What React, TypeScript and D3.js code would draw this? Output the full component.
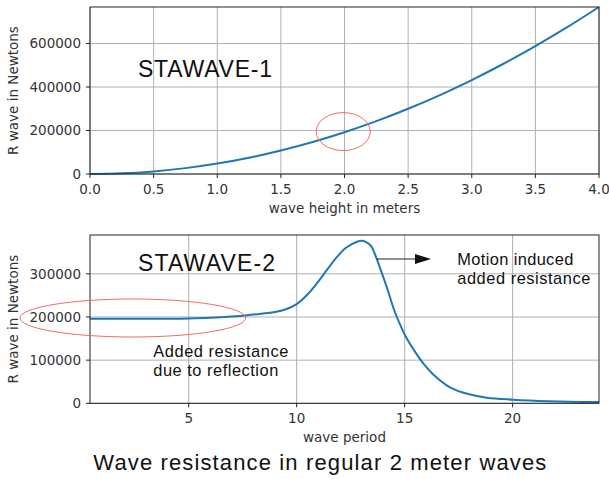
import React from "react";
import * as d3 from "d3";

// ---- Data ----
const waveHeights = [0, 0.25, 0.5, 0.75, 1.0, 1.25, 1.5, 1.75, 2.0, 2.25, 2.5, 2.75, 3.0, 3.25, 3.5, 3.75, 4.0];
const resistanceByHeight = [0, 3000, 12000, 27000, 48000, 75000, 108000, 147000, 192000, 243000, 300000, 363000, 432000, 507000, 588000, 675000, 768000];

const wavePeriods = [0.43, 1, 2, 3, 4, 5, 6, 7, 7.7, 8.5, 9, 9.5, 10, 10.5, 11, 11.4, 11.9, 12.3, 12.8, 13.0, 13.2, 13.45, 13.65, 13.9, 14.2, 14.5, 14.8, 15.1, 15.5, 15.9, 16.3, 17.1, 17.9, 18.8, 20, 21.7, 24];
const resistanceByPeriod = [196000, 196000, 196000, 196000, 196000, 196500, 198000, 201000, 204000, 208500, 211500, 218000, 230000, 252000, 282000, 309000, 341000, 361000, 374500, 376500, 374000, 364000, 342000, 308000, 265000, 218000, 181000, 150000, 118000, 90000, 68000, 37000, 22000, 13000, 8500, 5000, 3000];

const topXTicks = [0, 0.5, 1.0, 1.5, 2.0, 2.5, 3.0, 3.5, 4.0];
const topYTicks = [0, 200000, 400000, 600000];
const bottomXTicks = [5, 10, 15, 20];
const bottomYTicks = [0, 100000, 200000, 300000];

const topXLabel = "wave height in meters";
const bottomXLabel = "wave period";
const yLabel = "R wave in Newtons";
const title = "Wave resistance in regular 2 meter waves";

const MPL_FONT = "'DejaVu Sans', sans-serif";
const ARIAL = "'Liberation Sans', Arial, sans-serif";
const TICK_COLOR = "#333";
const GRID = "#b0b0b0";
const LINE = "#1f77b4";
const RED = "#f26a6a";

type PanelProps = {
  xs: d3.ScaleLinear<number, number>;
  ys: d3.ScaleLinear<number, number>;
  xTicks: number[];
  yTicks: number[];
  xFmt: (v: number) => string;
  xLabel: string;
  xData: number[];
  yData: number[];
};

function Panel({ xs, ys, xTicks, yTicks, xFmt, xLabel, xData, yData }: PanelProps) {
  const [x0, x1] = xs.range();
  const [y0, y1] = ys.range(); // y0 bottom, y1 top
  const line = d3
    .line<number>()
    .x((_, i) => xs(xData[i]))
    .y((d) => ys(d))
    .curve(d3.curveCatmullRom.alpha(0.5));
  return (
    <g>
      {xTicks.map((t) => (
        <line key={"gx" + t} x1={xs(t)} x2={xs(t)} y1={y0} y2={y1} stroke={GRID} strokeWidth={1} />
      ))}
      {yTicks.map((t) => (
        <line key={"gy" + t} x1={x0} x2={x1} y1={ys(t)} y2={ys(t)} stroke={GRID} strokeWidth={1} />
      ))}
      <path d={line(yData) || ""} fill="none" stroke={LINE} strokeWidth={2} />
      <rect x={x0} y={y1} width={x1 - x0} height={y0 - y1} fill="none" stroke="#222" strokeWidth={1} />
      {xTicks.map((t) => (
        <g key={"tx" + t}>
          <line x1={xs(t)} x2={xs(t)} y1={y0} y2={y0 + 4} stroke="#222" strokeWidth={1} />
          <text x={xs(t)} y={y0 + 19.5} textAnchor="middle" fontFamily={MPL_FONT} fontSize={13.5} fill={TICK_COLOR}>
            {xFmt(t)}
          </text>
        </g>
      ))}
      {yTicks.map((t) => (
        <g key={"ty" + t}>
          <line x1={x0 - 4} x2={x0} y1={ys(t)} y2={ys(t)} stroke="#222" strokeWidth={1} />
          <text x={x0 - 9} y={ys(t)} dy="0.36em" textAnchor="end" fontFamily={MPL_FONT} fontSize={13.5} fill={TICK_COLOR}>
            {String(t)}
          </text>
        </g>
      ))}
      <text x={(x0 + x1) / 2} y={y0 + 38.7} textAnchor="middle" fontFamily={MPL_FONT} fontSize={13.5} fill={TICK_COLOR}>
        {xLabel}
      </text>
      <text
        transform={`translate(18.3, ${(y0 + y1) / 2}) rotate(-90)`}
        textAnchor="middle"
        fontFamily={MPL_FONT}
        fontSize={13.5}
        fill={TICK_COLOR}
      >
        {yLabel}
      </text>
    </g>
  );
}

export default function App() {
  const W = 609;
  const H = 479;
  const xTop = d3.scaleLinear().domain([0, 4]).range([90, 599]);
  const yTop = d3.scaleLinear().domain([0, 768000]).range([174, 7]);
  const xBot = d3.scaleLinear().domain([0.43, 24]).range([90, 599]);
  const yBot = d3.scaleLinear().domain([0, 390000]).range([403.3, 235]);

  return (
    <svg
      width={W}
      height={H}
      style={{ position: "absolute", left: 0, top: 0, background: "#fff" }}
    >
      <rect width={W} height={H} fill="#fff" />
      <Panel
        xs={xTop}
        ys={yTop}
        xTicks={topXTicks}
        yTicks={topYTicks}
        xFmt={(v) => v.toFixed(1)}
        xLabel={topXLabel}
        xData={waveHeights}
        yData={resistanceByHeight}
      />
      <Panel
        xs={xBot}
        ys={yBot}
        xTicks={bottomXTicks}
        yTicks={bottomYTicks}
        xFmt={(v) => String(v)}
        xLabel={bottomXLabel}
        xData={wavePeriods}
        yData={resistanceByPeriod}
      />
      {/* Annotations */}
      <text x={138} y={77} fontFamily={ARIAL} fontSize={23} fill="#111" textLength={134} lengthAdjust="spacing">STAWAVE-1</text>
      <text x={138} y={270.5} fontFamily={ARIAL} fontSize={23} fill="#111" textLength={137} lengthAdjust="spacing">STAWAVE-2</text>
      <ellipse cx={xTop(1.99)} cy={yTop(195000)} rx={27} ry={19} fill="none" stroke={RED} strokeWidth={1} />
      <ellipse cx={132.8} cy={318} rx={112.8} ry={19} fill="none" stroke={RED} strokeWidth={1} />
      <text x={153.3} y={356.7} fontFamily={ARIAL} fontSize={16.4} fill="#111" textLength={135} lengthAdjust="spacing">Added resistance</text>
      <text x={153.3} y={375.5} fontFamily={ARIAL} fontSize={16.4} fill="#111" textLength={125} lengthAdjust="spacing">due to reflection</text>
      <text x={457.3} y={264.5} fontFamily={ARIAL} fontSize={16.4} fill="#111" textLength={116} lengthAdjust="spacing">Motion induced</text>
      <text x={457.3} y={283.5} fontFamily={ARIAL} fontSize={16.4} fill="#111" textLength={133} lengthAdjust="spacing">added resistance</text>
      <line x1={376.7} x2={416} y1={259} y2={259} stroke="#222" strokeWidth={1} />
      <path d="M415,254 L431,259 L415,264 Z" fill="#111" />
      <text x={93.3} y={470} fontFamily={ARIAL} fontSize={22} fill="#111" textLength={453} lengthAdjust="spacing">
        {title}
      </text>
    </svg>
  );
}
